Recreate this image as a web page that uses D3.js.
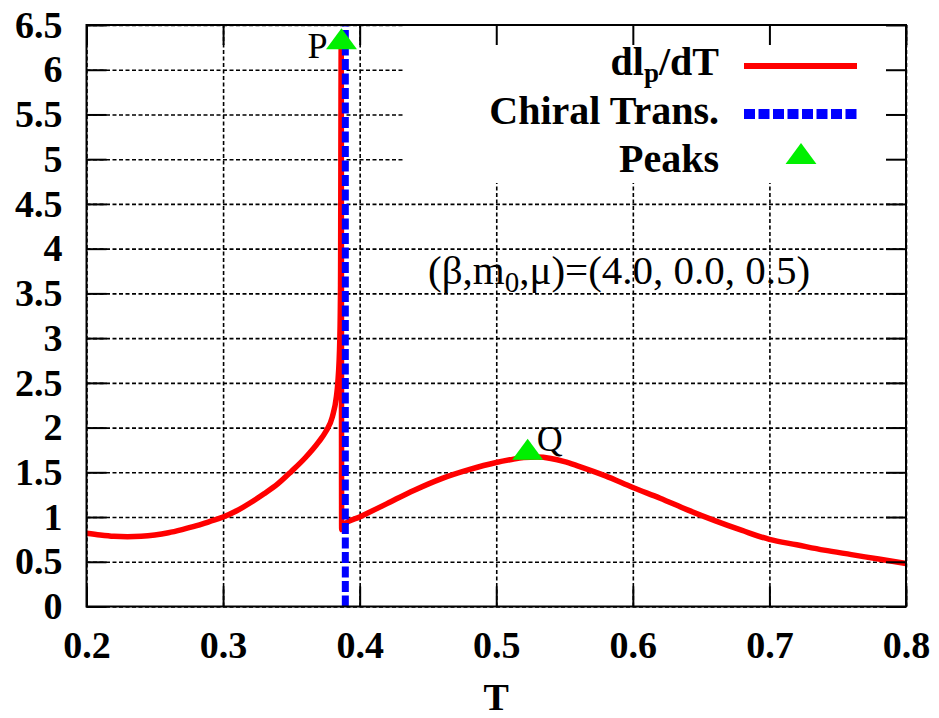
<!DOCTYPE html>
<html>
<head>
<meta charset="utf-8">
<script src="https://cdn.jsdelivr.net/npm/d3@7"></script>
<style>
  body { margin: 0; background: #fff; }
  svg { display: block; font-family: "Liberation Serif", "DejaVu Serif", serif; }
</style>
</head>
<body>
<svg width="939" height="718"></svg>
<script>
// dl_p/dT curve
var tValues = [0.20, 0.21, 0.22, 0.23, 0.24, 0.25, 0.26, 0.27, 0.28, 0.29, 0.30,
               0.31, 0.32, 0.33, 0.34, 0.35, 0.36, 0.37, 0.375, 0.38, 0.383, 0.384,
               0.3855, 0.386, 0.3865, 0.3868, 0.389, 0.40, 0.42, 0.44, 0.46, 0.48,
               0.50, 0.51, 0.52, 0.53, 0.54, 0.55, 0.56, 0.58, 0.60, 0.62, 0.64,
               0.66, 0.68, 0.70, 0.72, 0.74, 0.76, 0.78, 0.80];
var dldtValues = [0.82, 0.80, 0.785, 0.78, 0.785, 0.80, 0.825, 0.86, 0.90, 0.95, 1.00,
                  1.07, 1.16, 1.26, 1.37, 1.51, 1.66, 1.84, 1.95, 2.12, 2.35, 2.5,
                  3.0, 3.6, 6.3, 0.86, 0.92, 1.00, 1.15, 1.30, 1.43, 1.53,
                  1.61, 1.64, 1.665, 1.67, 1.655, 1.62, 1.57, 1.46, 1.33, 1.21, 1.08,
                  0.96, 0.85, 0.75, 0.69, 0.63, 0.58, 0.53, 0.48];

var chiralT = 0.3895;

var peakT = [0.3867, 0.523];
var peakValues = [6.33, 1.74];
var peakNames = ["P", "Q"];

var xTicks = [0.2, 0.3, 0.4, 0.5, 0.6, 0.7, 0.8];
var yTicks = [0, 0.5, 1, 1.5, 2, 2.5, 3, 3.5, 4, 4.5, 5, 5.5, 6, 6.5];

var legendNames = ["dl/dT", "Chiral Trans.", "Peaks"];

var plotL = 86.5, plotR = 906, plotT = 25, plotB = 606.5;
var tickLen = 20;

var x = d3.scaleLinear().domain([0.2, 0.8]).range([plotL, plotR]);
var y = d3.scaleLinear().domain([0, 6.5]).range([plotB, plotT]);

var svg = d3.select("svg");

// grid
var grid = svg.append("g").attr("class", "grid");
grid.append("g")
    .attr("transform", "translate(0," + plotB + ")")
    .call(d3.axisBottom(x).tickValues(xTicks).tickSize(-(plotB - plotT)).tickFormat(""));
grid.append("g")
    .attr("transform", "translate(" + plotL + ",0)")
    .call(d3.axisLeft(y).tickValues(yTicks).tickSize(-(plotR - plotL)).tickFormat(""));
grid.selectAll(".domain").remove();
grid.selectAll("line")
    .attr("stroke", "#000")
    .attr("stroke-width", 1.6)
    .attr("stroke-dasharray", "4,2.5");

// opaque key box
svg.append("rect")
    .attr("x", 405).attr("y", plotT)
    .attr("width", plotR - 405).attr("height", 158)
    .attr("fill", "#fff");

// annotation
var anno = svg.append("text")
    .attr("x", 428).attr("y", 284)
    .attr("font-size", 41)
    .attr("fill", "#000");
anno.append("tspan").text("(\u03b2,m");
anno.append("tspan").attr("font-size", 29).attr("dy", 8).text("0");
anno.append("tspan").attr("dy", -8).text(",\u03bc)=(4.0, 0.0, 0.5)");

// curve
var curveData = tValues.map(function(t, i) { return { t: t, v: dldtValues[i] }; });
var line = d3.line()
    .x(d => x(d.t))
    .y(d => y(d.v))
    .curve(d3.curveMonotoneX);

svg.append("path")
    .datum(curveData)
    .attr("d", line)
    .attr("fill", "none")
    .attr("stroke", "#ff0000")
    .attr("stroke-width", 5.5)
    .attr("stroke-linejoin", "round");

// chiral transition
svg.append("line")
    .attr("x1", x(chiralT)).attr("x2", x(chiralT))
    .attr("y1", y(0)).attr("y2", y(6.5))
    .attr("stroke", "#0000ff")
    .attr("stroke-width", 7)
    .attr("stroke-dasharray", "11,3.5");

// peaks
var tri = d3.symbol().type(d3.symbolTriangle).size(330);
var peaks = peakT.map(function(t, i) { return { t: t, v: peakValues[i], name: peakNames[i] }; });
svg.selectAll(".peak")
    .data(peaks)
    .enter()
    .append("path")
      .attr("class", "peak")
      .attr("d", tri)
      .attr("transform", d => "translate(" + x(d.t) + "," + (y(d.v) + 2) + ") scale(1.12,0.88)")
      .attr("fill", "#00f000");

svg.append("text")
    .attr("x", x(peakT[0]) - 14).attr("y", 58)
    .attr("text-anchor", "end")
    .attr("font-size", 36)
    .text(peakNames[0]);
svg.append("text")
    .attr("x", x(peakT[1]) + 9).attr("y", 451)
    .attr("font-size", 36)
    .text(peakNames[1]);

// axes with inward ticks on all sides
var axisB = svg.append("g")
    .attr("transform", "translate(0," + plotB + ")")
    .call(d3.axisBottom(x).tickValues(xTicks).tickSize(-tickLen).tickPadding(25).tickFormat(d3.format(".1f")));
var axisL = svg.append("g")
    .attr("transform", "translate(" + plotL + ",0)")
    .call(d3.axisLeft(y).tickValues(yTicks).tickSize(-tickLen).tickPadding(24).tickFormat(d => d));
var axisT = svg.append("g")
    .attr("transform", "translate(0," + plotT + ")")
    .call(d3.axisTop(x).tickValues(xTicks).tickSize(-tickLen).tickFormat(""));
var axisR = svg.append("g")
    .attr("transform", "translate(" + plotR + ",0)")
    .call(d3.axisRight(y).tickValues(yTicks).tickSize(-tickLen).tickFormat(""));

svg.selectAll(".domain").remove();
[axisB, axisL, axisT, axisR].forEach(function(a) {
  a.selectAll("line").attr("stroke", "#000").attr("stroke-width", 2);
  a.selectAll("text")
    .attr("font-family", "Liberation Serif, serif")
    .attr("font-size", 38)
    .attr("font-weight", "bold")
    .attr("fill", "#000");
});

svg.append("rect")
    .attr("x", plotL).attr("y", plotT)
    .attr("width", plotR - plotL).attr("height", plotB - plotT)
    .attr("fill", "none")
    .attr("stroke", "#000")
    .attr("stroke-width", 2);

// axis title
svg.append("text")
    .attr("x", (plotL + plotR) / 2).attr("y", 710)
    .attr("text-anchor", "middle")
    .attr("font-size", 38)
    .attr("font-weight", "bold")
    .text("T");

// legend
var legendY = [66, 114, 157];
var keyText = svg.append("g")
    .attr("font-size", 40)
    .attr("font-weight", "bold")
    .attr("text-anchor", "end");

var k0 = keyText.append("text").attr("x", 719).attr("y", legendY[0] + 9);
k0.append("tspan").text("dl");
k0.append("tspan").attr("font-size", 27).attr("dy", 7).text("p");
k0.append("tspan").attr("dy", -7).text("/dT");
keyText.append("text").attr("x", 719).attr("y", legendY[1] + 10).text(legendNames[1]);
keyText.append("text").attr("x", 719).attr("y", legendY[2] + 15).text(legendNames[2]);

svg.append("line")
    .attr("x1", 744).attr("x2", 857)
    .attr("y1", legendY[0]).attr("y2", legendY[0])
    .attr("stroke", "#ff0000").attr("stroke-width", 6);
svg.append("line")
    .attr("x1", 744).attr("x2", 858)
    .attr("y1", legendY[1]).attr("y2", legendY[1])
    .attr("stroke", "#0000ff").attr("stroke-width", 10)
    .attr("stroke-dasharray", "11,3.5");
svg.append("path")
    .attr("d", tri)
    .attr("transform", "translate(801," + legendY[2] + ") scale(1.12,0.88)")
    .attr("fill", "#00f000");
</script>
</body>
</html>
